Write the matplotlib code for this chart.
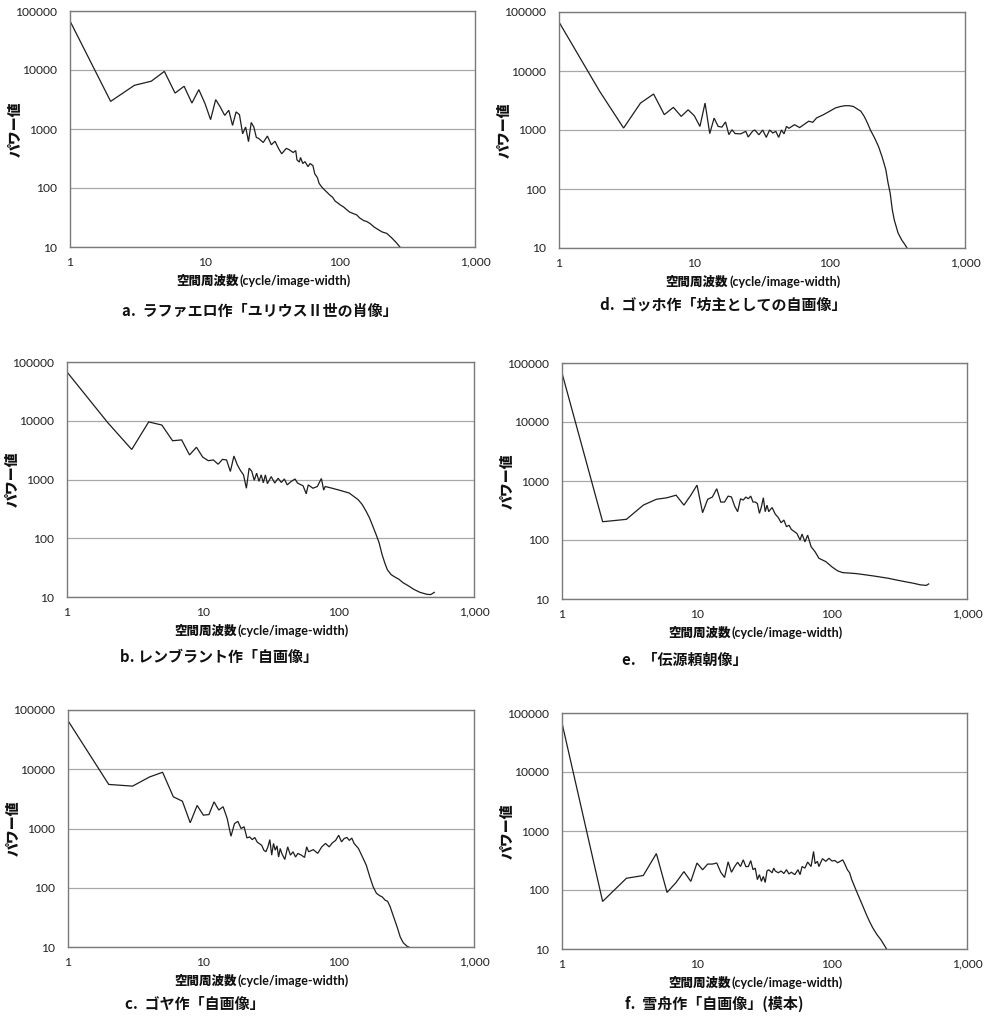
import matplotlib
matplotlib.use("Agg")
import matplotlib.pyplot as plt
from matplotlib.ticker import FixedLocator, FixedFormatter, NullLocator

# ---------------- data ----------------
xa = [1, 2, 3, 4, 5, 6, 7, 8, 9, 10, 11, 12, 13, 14, 15, 16, 17, 18, 19, 20, 21, 22, 23, 24, 25,
      27, 29, 31, 33, 35, 37, 40, 42, 45, 47, 48, 50, 51, 53, 55, 58, 60, 63, 65, 68,
      70, 73, 76, 80, 84, 88, 92, 97, 100, 106, 112, 118, 125, 133, 140, 150, 158, 167, 178, 190,
      205, 222, 240, 260, 280]
ya = [67600, 2940, 5500, 6460, 9480, 4060, 5300, 2750, 4650, 2700,
      1440, 3150, 2340, 1700, 2080, 1150, 1950, 1750, 830, 1080,
      610, 1290, 1080, 720, 690,
      590, 760, 540, 620, 470, 380, 470, 445, 400, 430,
      300, 275, 330, 260, 280, 230, 260, 240, 174, 150,
      120, 105, 95, 85, 76, 70, 60, 55, 52, 48,
      43, 39, 37, 35, 31, 28, 27, 25, 22, 20,
      18, 17, 14.5, 12, 9.8]

xd = [1, 2, 3, 4, 5, 6, 7, 8, 9, 10, 11, 12, 13, 14, 15, 16, 17, 18, 19, 20,
      22, 24, 25, 27, 28, 30, 32, 34, 36, 38, 40, 42, 44, 46, 48, 50,
      55, 60, 65, 70, 75, 80, 90, 100,
      110, 120, 130, 140, 150, 160, 170, 180, 190, 200,
      215, 230, 245, 260, 270, 280, 290, 300, 320, 340, 360, 375]
yd = [67600, 4500, 1080, 2860, 4070, 1820, 2420, 1700, 2200, 1740,
      1150, 2860, 870, 1590, 1150, 1120, 1370, 835, 1010, 870,
      860, 950, 760, 960, 1000, 830, 1000, 750, 1000, 890, 950, 750, 1000, 860, 1150, 1070,
      1230, 1100, 1250, 1410, 1350, 1600, 1820, 2080,
      2360, 2500, 2580, 2580, 2500, 2270, 2080, 1700, 1320, 1000,
      730, 520, 340, 213, 127, 85, 45, 30, 18, 13.8, 11.4, 9.8]

xb = [1, 2, 3, 4, 5, 6, 7, 8, 9, 10, 11, 12, 13, 14, 15, 16, 17, 18, 19, 20,
      21, 22, 23, 24, 25, 26, 27, 28, 29, 30,
      32, 34, 36, 38, 40, 42, 45, 48, 50,
      55, 58, 60, 65, 70, 75, 78, 80,
      90, 100, 110, 120, 130, 140, 150, 160, 170, 180, 190, 200, 210, 220, 230,
      245, 260, 280, 300, 330, 360, 400, 450, 480, 510]
yb = [67600, 9250, 3240, 9550, 8450, 4570, 4720, 2620, 3540, 2410,
      2090, 2150, 1820, 2200, 2150, 1370, 2510, 1780, 1420, 1200,
      710, 1560, 1380, 970, 1280, 930, 1200, 880, 1200, 850,
      1120, 870, 1050, 890, 1020, 810, 930, 1020, 870,
      780, 570, 810, 710, 760, 1040, 660, 760,
      710, 665, 625, 590, 515, 453, 375, 290, 220, 158, 115, 83, 53, 38, 29,
      24, 22, 20, 17.5, 15.4, 13.5, 12, 11.1, 11, 12]

xe = [1, 2, 3, 4, 5, 6, 7, 8, 9, 10, 11, 12, 13, 14, 15, 16, 17, 18, 19, 20,
      21, 22, 23, 24, 25, 26, 27, 28, 29, 30, 31, 32, 33, 34, 35, 36,
      38, 40, 42, 44, 46, 48, 50,
      55, 58, 60, 63, 66, 70, 75, 80,
      90, 100, 110, 120, 135, 150, 170, 200, 230, 260, 300, 350, 400, 450, 500, 520]
ye = [67600, 204, 224, 390, 490, 520, 575, 390, 575, 850,
      290, 490, 535, 740, 440, 440, 555, 535, 375, 302,
      500, 475, 535, 500, 555, 440, 440, 415, 283, 365,
      520, 302, 390, 302, 330, 355,
      274, 240, 196, 218, 168, 178, 151,
      129, 100, 126, 93, 121, 77, 63, 49,
      43, 35, 30, 28, 27.5, 27, 26, 24.7, 23.5, 22.5, 21, 19.6, 18.5, 17.4, 17, 18]

xc = [1, 2, 3, 4, 5, 6, 7, 8, 9, 10, 11, 12, 13, 14, 15, 16, 17, 18, 19, 20, 21, 22, 23, 24, 25,
      27, 28, 29, 30, 31, 32, 33, 34, 35, 36, 37, 38,
      40, 42, 44, 46, 48, 50,
      53, 56, 58, 60, 65, 70, 75, 80, 85, 90, 95, 100, 105, 110, 115, 120, 125, 130,
      140, 150, 160, 170, 180, 190, 200, 210, 220, 230, 240,
      255, 270, 285, 300, 320, 335]
yc = [66000, 5540, 5190, 7400, 8900, 3430, 2890, 1250, 2450, 1680,
      1720, 2820, 2050, 2330, 1480, 740, 1210, 1320, 1000, 1070,
      695, 720, 650, 705, 590,
      520, 430, 405, 490, 650, 355, 560, 430, 510, 330, 460, 380,
      300, 490, 355, 405, 330, 380,
      355, 325, 490, 405, 440, 380, 490, 560, 490, 575, 630, 770, 595, 680, 705, 630, 690, 560,
      460, 330, 240, 152, 103, 81, 74, 70, 62, 59, 48,
      32, 22, 14.8, 11.8, 10.3, 9.8]

xf = [1, 2, 3, 4, 5, 6, 7, 8, 9, 10, 11, 12, 13, 14, 15, 16, 17, 18, 19, 20,
      21, 22, 23, 24, 25, 26, 27, 28, 29, 30, 31, 32, 33, 34,
      36, 37, 38, 40, 42, 44, 46, 48, 50,
      53, 56, 58, 60, 63, 66, 70, 73, 75, 78, 80, 85, 90, 95, 100, 105, 110, 115, 120, 125, 130, 135, 140,
      150, 160, 170, 180, 190, 200, 215, 230, 245, 255]
yf = [67600, 64, 158, 176, 415, 91, 134, 205, 140, 287,
      220, 275, 275, 287, 200, 163, 300, 200, 250, 295,
      250, 325, 250, 250, 315, 221, 235, 150, 182, 140,
      170, 134, 210, 220,
      196, 235, 210, 196, 210, 190, 221, 187, 200,
      182, 221, 182, 250, 235, 297, 250, 450, 280, 306, 250, 340, 306, 345, 310, 316, 290, 306, 325, 270, 220, 196, 150,
      102, 72, 52, 38, 29, 23, 17.6, 14.4, 11.4, 9.8]

xticks = [1, 10, 100, 1000]
xticklabels = ["1", "10", "100", "1,000"]
yticks = [10, 100, 1000, 10000, 100000]
yticklabels = ["10", "100", "1000", "10000", "100000"]

ylabel = "パワー値"
xlabel_jp = "空間周波数"
xlabel_en = "(cycle/image-width)"

captions = {
    "a": "a.  ラファエロ作「ユリウスⅡ世の肖像」",
    "d": "d.  ゴッホ作「坊主としての自画像」",
    "b": "b. レンブラント作「自画像」",
    "e": "e.  「伝源頼朝像」",
    "c": "c.  ゴヤ作「自画像」",
    "f": "f.  雪舟作「自画像」(模本)",
}

series = {"a": (xa, ya), "d": (xd, yd), "b": (xb, yb),
          "e": (xe, ye), "c": (xc, yc), "f": (xf, yf)}

# ---------------- layout (pixels) ----------------
W, H = 985, 1019
boxes = {  # left, top, right, bottom
    "a": (70, 11, 475, 247),
    "d": (559, 12, 965, 248),
    "b": (67, 362, 474, 597),
    "e": (562, 363, 967, 599),
    "c": (68, 710, 474, 947),
    "f": (562, 713, 967, 949),
}
caption_pos = {  # left x, center y
    "a": (122, 311), "d": (600, 305),
    "b": (120, 657), "e": (622, 660),
    "c": (125, 1004), "f": (625, 1004),
}

JP = ["Noto Sans CJK JP", "DejaVu Sans"]
LAT = ["Lato", "DejaVu Sans"]

fig = plt.figure(figsize=(W / 100, H / 100), dpi=100)
fig.patch.set_facecolor("white")

def fx(px):
    return px / W

def fy(py):
    return 1 - py / H

for key, (l, t, r, b) in boxes.items():
    ax = fig.add_axes([fx(l), fy(b), (r - l) / W, (b - t) / H])
    x, y = series[key]
    ax.plot(x, y, color="#1e1e1e", lw=0.9, solid_joinstyle="miter")
    ax.set_xscale("log")
    ax.set_yscale("log")
    ax.set_xlim(1, 1000)
    ax.set_ylim(10, 100000)
    ax.xaxis.set_major_locator(FixedLocator(xticks))
    ax.xaxis.set_major_formatter(FixedFormatter(xticklabels))
    ax.yaxis.set_major_locator(FixedLocator(yticks))
    ax.yaxis.set_major_formatter(FixedFormatter(yticklabels))
    ax.xaxis.set_minor_locator(NullLocator())
    ax.yaxis.set_minor_locator(NullLocator())
    ax.tick_params(axis="both", length=0, labelsize=8.7, colors="#222222")
    ax.tick_params(axis="x", pad=7)
    ax.tick_params(axis="y", pad=9)
    for lab in ax.get_xticklabels() + ax.get_yticklabels():
        lab.set_family(LAT)
    ax.grid(axis="y", color="#a8a8a8", lw=0.9)
    ax.set_axisbelow(True)
    for s in ax.spines.values():
        s.set_color("#7a7a7a")
        s.set_linewidth(1.0)

    # y label
    fig.text(fx(l - 54), fy((t + b) / 2), ylabel, rotation=90, ha="center", va="center",
             family=JP, fontweight="black", fontsize=10, color="#111111")
    # x label (two parts)
    cx = (l + r) / 2 - 34
    ly = b + 34
    fig.text(fx(cx), fy(ly), xlabel_jp, ha="right", va="center",
             family=JP, fontweight="black", fontsize=9, color="#111111")
    fig.text(fx(cx + 1), fy(ly), xlabel_en, ha="left", va="center",
             family=LAT, fontweight="bold", fontsize=9, color="#111111")
    # caption
    cxp, cyp = caption_pos[key]
    fig.text(fx(cxp), fy(cyp), captions[key], ha="left", va="center",
             family=JP, fontweight="bold", fontsize=10.8, color="#111111")

fig.savefig("out.png", dpi=100, facecolor="white")
